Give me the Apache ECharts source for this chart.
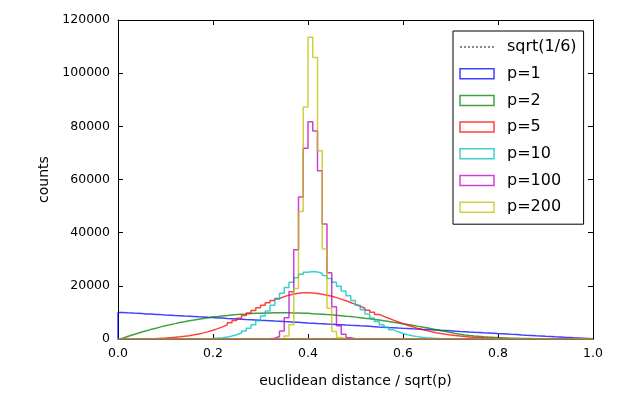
<!DOCTYPE html>
<html>
<head>
<meta charset="utf-8">
<script src="https://cdn.jsdelivr.net/npm/echarts@6/dist/echarts.min.js"></script>
<style>
html, body { margin: 0; padding: 0; background: #fff; }
#chart { width: 634px; height: 396px; }
</style>
</head>
<body>
<div id="chart"></div>
<script>
// histogram bins: 100 bins of width 0.01 starting at 0
var binLow = 0;
var binWidth = 0.01;

var seriesNames = ['p=1', 'p=2', 'p=5', 'p=10', 'p=100', 'p=200'];
var refName = 'sqrt(1/6)';

// counts per bin
var countsP1 = [
  9950, 9840, 9760, 9640, 9570, 9440, 9360, 9240, 9170, 9040,
  8960, 8840, 8770, 8640, 8560, 8450, 8340, 8260, 8150, 8060,
  7940, 7860, 7750, 7660, 7540, 7460, 7340, 7250, 7160, 7040,
  6960, 6850, 6740, 6660, 6540, 6460, 6340, 6260, 6150, 6040,
  5960, 5840, 5760, 5650, 5560, 5440, 5360, 5250, 5150, 5060,
  4940, 4850, 4760, 4650, 4540, 4460, 4340, 4260, 4150, 4050,
  3960, 3840, 3760, 3640, 3560, 3460, 3350, 3240, 3160, 3060,
  2950, 2840, 2760, 2650, 2550, 2460, 2340, 2260, 2150, 2040,
  1950, 1860, 1740, 1660, 1550, 1450, 1360, 1240, 1160, 1050,
  960, 850, 750, 650, 560, 450, 350, 250, 150, 50
];
var countsP2 = [
  311, 917, 1510, 2050, 2610, 3110, 3630, 4080, 4560, 4970,
  5400, 5780, 6170, 6510, 6860, 7160, 7470, 7750, 8000, 8250,
  8460, 8690, 8860, 9040, 9180, 9340, 9440, 9560, 9640, 9720,
  9770, 9820, 9840, 9860, 9850, 9840, 9800, 9770, 9700, 9640,
  9540, 9450, 9340, 9210, 9090, 8930, 8780, 8600, 8430, 8230,
  8030, 7810, 7600, 7350, 7120, 6860, 6600, 6320, 6050, 5760,
  5460, 5160, 4840, 4520, 4190, 3860, 3510, 3170, 2810, 2450,
  2080, 1760, 1530, 1330, 1150, 1000, 860, 744, 633, 536,
  456, 388, 325, 270, 222, 180, 144, 113, 87, 66,
  48, 34, 23, 14, 8, 4, 2, 1, 0, 0
];
var countsP5 = [
  3, 8, 16, 30, 50, 80, 120, 175, 245, 335,
  501, 640, 810, 1017, 1265, 1559, 1907, 2311, 2777, 3306,
  3903, 4566, 5298, 6095, 6948, 7849, 8796, 9761, 10753, 11730,
  12697, 13610, 14468, 15248, 15928, 16493, 16932, 17229, 17381, 17389,
  17298, 17117, 16849, 16499, 16072, 15574, 15011, 14393, 13728, 13026,
  12296, 11545, 10783, 10019, 9260, 8514, 7787, 7085, 6411, 5770,
  5168, 4605, 4080, 3597, 3155, 2752, 2388, 2061, 1771, 1512,
  1285, 1087, 914, 766, 637, 527, 435, 356, 290, 235,
  189, 152, 121, 96, 76, 60, 47, 36, 28, 21,
  16, 12, 9, 7, 5, 4, 3, 2, 1, 0
];
var countsP10 = [
  0, 0, 0, 0, 0, 0, 0, 0, 0, 0,
  1, 3, 5, 9, 17, 29, 50, 83, 136, 216,
  336, 513, 765, 1115, 1595, 2230, 3051, 4084, 5354, 6866,
  8613, 10579, 12715, 14953, 17209, 19385, 21364, 23045, 24325, 25126,
  25400, 25225, 24707, 23866, 22738, 21364, 19799, 18095, 16312, 14501,
  12715, 10993, 9375, 7887, 6543, 5354, 4321, 3437, 2697, 2088,
  1595, 1201, 892, 653, 472, 336, 236, 164, 112, 75,
  50, 33, 21, 14, 9, 6, 4, 2, 1, 0,
  0, 0, 0, 0, 0, 0, 0, 0, 0, 0,
  0, 0, 0, 0, 0, 0, 0, 0, 0, 0
];
var countsP100 = [
  0, 0, 0, 0, 0, 0, 0, 0, 0, 0,
  0, 0, 0, 0, 0, 0, 0, 0, 0, 0,
  0, 0, 0, 0, 0, 0, 0, 0, 0, 0,
  10, 60, 260, 960, 3020, 7980, 17800, 33600, 53400, 71800,
  81750, 78200, 63250, 43300, 24950, 12150, 5000, 1750, 500, 130,
  30, 5, 0, 0, 0, 0, 0, 0, 0, 0,
  0, 0, 0, 0, 0, 0, 0, 0, 0, 0,
  0, 0, 0, 0, 0, 0, 0, 0, 0, 0,
  0, 0, 0, 0, 0, 0, 0, 0, 0, 0,
  0, 0, 0, 0, 0, 0, 0, 0, 0, 0
];
var countsP200 = [
  0, 0, 0, 0, 0, 0, 0, 0, 0, 0,
  0, 0, 0, 0, 0, 0, 0, 0, 0, 0,
  0, 0, 0, 0, 0, 0, 0, 0, 0, 0,
  0, 0, 0, 10, 158, 1085, 5360, 19000, 48000, 87300,
  113500, 105850, 70800, 33850, 11600, 2860, 550, 80, 10, 0,
  0, 0, 0, 0, 0, 0, 0, 0, 0, 0,
  0, 0, 0, 0, 0, 0, 0, 0, 0, 0,
  0, 0, 0, 0, 0, 0, 0, 0, 0, 0,
  0, 0, 0, 0, 0, 0, 0, 0, 0, 0,
  0, 0, 0, 0, 0, 0, 0, 0, 0, 0
];

var allCounts = [countsP1, countsP2, countsP5, countsP10, countsP100, countsP200];
var colors = ['#0000ff', '#008000', '#ff0000', '#00bfbf', '#bf00bf', '#bfbf00'];
var font = 'DejaVu Sans';

// outline of a step histogram, closed along the baseline like matplotlib's
function stepOutline(counts) {
  var pts = [[binLow, 0]];
  for (var i = 0; i < counts.length; i++) {
    pts.push([binLow + i * binWidth, counts[i]]);
  }
  var hi = binLow + counts.length * binWidth;
  pts.push([hi, counts[counts.length - 1]]);
  pts.push([hi, 0]);
  pts.push([binLow, 0]);
  return pts;
}

var series = [{
  name: refName,
  type: 'line',
  data: [],
  symbol: 'none',
  lineStyle: { type: 'dotted', color: '#8a8a8a', width: 1 },
  itemStyle: { color: '#8a8a8a' }
}];
for (var k = 0; k < allCounts.length; k++) {
  series.push({
    name: seriesNames[k],
    type: 'line',
    step: 'end',
    symbol: 'none',
    showSymbol: false,
    data: stepOutline(allCounts[k]),
    lineStyle: { color: colors[k], width: 1.5, opacity: 0.75 },
    itemStyle: { color: colors[k] }
  });
}

var legendData = [{ name: refName, itemStyle: { opacity: 0 } }];
for (var j = 0; j < seriesNames.length; j++) {
  legendData.push({
    name: seriesNames[j],
    icon: 'rect',
    itemStyle: { color: 'rgba(0,0,0,0)', borderColor: colors[j], borderWidth: 1.5, opacity: 0.75 }
  });
}

var axisFrame = { show: true, onZero: false, lineStyle: { color: '#000', width: 1 } };
var tickIn = { show: true, inside: true, length: 5, lineStyle: { color: '#000', width: 1 } };

var chart = echarts.init(document.getElementById('chart'));
chart.setOption({
  animation: false,
  backgroundColor: '#fff',
  grid: { left: 118, right: 41, top: 20, bottom: 57 },
  legend: {
    orient: 'vertical',
    left: 453,
    top: 31,
    selectedMode: false,
    backgroundColor: '#fff',
    borderColor: '#000',
    borderWidth: 1,
    borderRadius: 0,
    padding: [8, 7, 9, 6],
    itemWidth: 34,
    itemHeight: 10,
    itemGap: 10.7,
    textStyle: { fontFamily: font, fontSize: 16, color: '#000', lineHeight: 16, padding: [0, 0, 0, 8] },
    data: legendData
  },
  xAxis: [{
    type: 'value',
    min: 0,
    max: 1,
    interval: 0.2,
    axisLine: axisFrame,
    axisTick: tickIn,
    splitLine: { show: false },
    axisLabel: {
      color: '#000', fontFamily: font, fontSize: 12.5, margin: 8,
      formatter: function (v) { return v.toFixed(1); }
    },
    name: 'euclidean distance / sqrt(p)',
    nameLocation: 'middle',
    nameGap: 35,
    nameTextStyle: { color: '#000', fontFamily: font, fontSize: 14 }
  }, {
    type: 'value',
    position: 'top',
    min: 0,
    max: 1,
    interval: 0.2,
    axisLine: axisFrame,
    axisTick: tickIn,
    axisLabel: { show: false },
    splitLine: { show: false }
  }],
  yAxis: [{
    type: 'value',
    min: 0,
    max: 120000,
    interval: 20000,
    axisLine: axisFrame,
    axisTick: tickIn,
    splitLine: { show: false },
    axisLabel: {
      color: '#000', fontFamily: font, fontSize: 12.5, margin: 8,
      formatter: function (v) { return String(v); }
    },
    name: 'counts',
    nameLocation: 'middle',
    nameGap: 67,
    nameTextStyle: { color: '#000', fontFamily: font, fontSize: 14 }
  }, {
    type: 'value',
    position: 'right',
    min: 0,
    max: 120000,
    interval: 20000,
    axisLine: axisFrame,
    axisTick: tickIn,
    axisLabel: { show: false },
    splitLine: { show: false }
  }],
  series: series
});
</script>
</body>
</html>
